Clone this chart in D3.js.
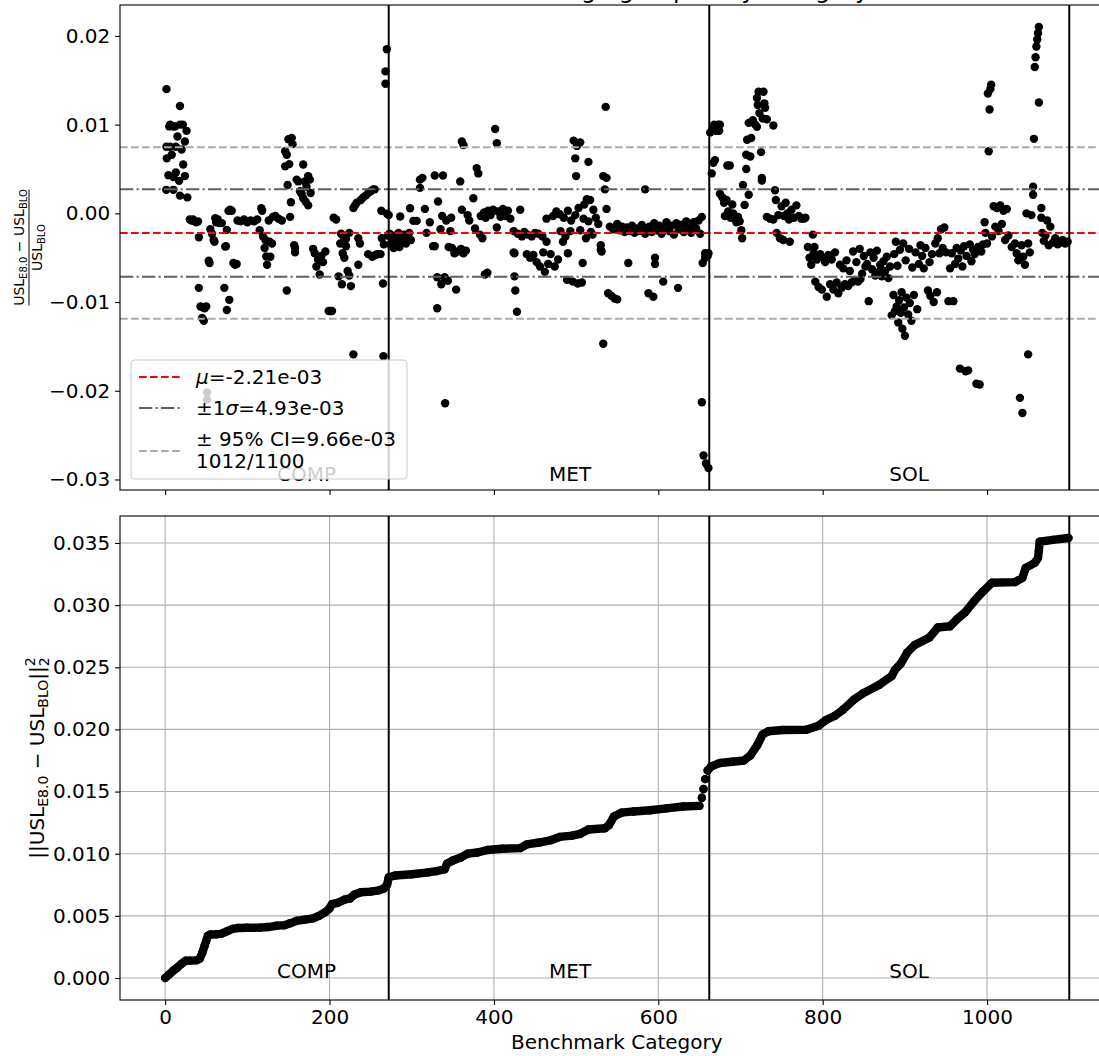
<!DOCTYPE html>
<html>
<head>
<meta charset="utf-8">
<script src="https://cdn.jsdelivr.net/npm/d3@7"></script>
<style>
  body { margin: 0; background: #fff; }
  text { font-family: "DejaVu Sans", sans-serif; fill: #000; }
</style>
</head>
<body>
<svg width="1099" height="1056"></svg>
<script>
// values below are in units of 1e-3
var compPts = [[1.6,14.0],[1.5,7.5],[2,6.2],[1.3,2.65],[4,4.3],[5,9.8],[6,10.0],[6,7.5],[8,6.6],[10,9.8],[10,4.1],[10,2.65],[12,9.8],[13,7.5],[13,4.6],[15,8.66],[17,3.66],[18,12.1],[18,10],[18,2.0],[20,7.2],[21.5,10.0],[22,5.5],[24,8.1],[24,4.2],[26,9.3],[27,1.8],
  [30,-0.7],[32,-0.8],[34,-0.7],[36,-0.9],[38,-1.0],[40,-0.9],[41,-2.7],[41,-8.4],[43,-10.5],[45,-11.8],[46,-10.6],[47,-12.1],[48,-10.7],[50,-10.5],[51,-20.2],[51,-21.0],[53,-5.35],[54,-5.6],[55,-1.8],[57,-2.3],[59,-3.0],[60,-3.2],[61,-0.55],[62,-1.0],[64,-0.7],[66,-1.1],[69,-1.1],[72,-8.4],[73,-3.75],[74,-3.7],[75,-1.86],[75,-10.9],[77,0.28],[78,-9.75],[79,0.4],[81,0.3],[83,-5.6],[85,-5.8],[87,-5.7],
  [88,-0.8],[92,-0.9],[96,-0.7],[100,-1.0],[104,-0.8],[108,-0.9],[112,-0.7],[115,-1.9],[117,0.58],[118,0.3],[119,-2.6],[121,-3.9],[122,-3.0],[123,-4.87],[124,-5.8],[126,-0.8],[127,-3.2],[128,-4.9],[130,-3.4],[131,-0.4],[134,-0.3],[138,-0.6],[142,-0.8],
  [146,7.0],[146,5.3],[148,6.6],[148,-8.7],[149,3.2],[150,8.36],[151,5.55],[152,-0.4],[153,1.25],[154,8.5],[155,7.8],[157,-3.6],[158,-3.9],[158,-4.4],[160,3.8],[162,3.6],[164,2.5],[166,2.2],[168,5.5],[168,1.7],[170,3.6],[171,1.3],[172,3.0],[174,4.2],[174,0.9],[176,3.8],[177,2.3],
  [180,-4.0],[182,-4.5],[184,-6.0],[186,-5.2],[188,-6.9],[190,-4.8],[192,-5.5],[195,-4.3],[199,-11.0],[201,-11.0],[203,-11.0],[205,-0.5],[208,-0.7],[211,-7.1],[213,-3.4],[214,-2.3],[215,-8.0],[216,-4.5],[217,-2.6],[218,-5.0],[220,-3.7],[220,-2.9],[222,-6.5],[224,-7.0],[224,-2.2],[226,-8.2],
  [229,0.6],[229,-15.9],[231,0.9],[233,1.2],[235,-2.8],[235,-5.8],[237,-3.4],[238,1.5],[241,1.8],[244,2.0],[247,-4.6],[247,2.3],[250,2.5],[252,-4.9],[253,2.7],[255,2.7],[256,-4.7],[258,-4.6],[262,-4.6],[263,0.3],[263.6,-2.8],[265,-7.9],[265.6,-16.1],[266,-3.5],[268,16.0],[268,14.6],[269.7,18.5],[270,-0.05],[271,-2.5]];

var metPts = [[272,-0.2],[273,-2.3],[274,-3.5],[276,-2.8],[278,-3.9],[280,-2.5],[282,-3.2],[284,-2.2],[285,-3.8],[286,-0.36],[287,-2.6],[289,-3.1],[291,-2.4],[293,-3.4],[295,-2.9],[297,-2.2],[298,0.58],[299,-3.0],
  [302,-0.85],[306,-0.85],[310,3.8],[310,2.87],[313,4.0],[316,0.5],[318,-2.2],[322,-1.0],[326,-3.7],[328,-3.7],[328,4.26],[331,-7.2],[331,-10.7],[332,1.33],[335,-1.8],[336,-8.0],[337,-0.3],[338,4.26],[340,-7.2],[340.6,-21.4],[342,-0.8],[344,-7.6],[345,-3.8],[347,-2.0],[348,-0.5],[349,-3.9],[352,-4.5],[354,-8.6],[356,-4.3],[359,3.6],[360,-4.0],[361,8.1],[361,0.4],[363,7.7],[363,-4.5],[366,-4.2],[368,-0.2],[370,-0.8],
  [375,1.7],[377,-1.7],[379,5.1],[381,4.5],[383,-2.4],[384,-0.3],[386,-2.8],[388,0.1],[389,-6.9],[390,-0.5],[392,-6.7],[393,0.3],[396,-0.2],[399,0.4],[401.5,9.5],[403.5,7.9],[403.5,-1.6],[405,0.2],[408,-0.4],[411,0.5],[414,-0.3],[417,0.3],[420,-0.6],
  [424,-2.0],[424,-4.4],[425,-4.5],[425,-7.1],[426,-8.7],[428,-11.1],[429,-2.3],[432,0.4],[434,-2.6],[437,-2.1],[440,-4.6],[441,-2.4],[444,-5.0],[446,-2.6],[448,-4.7],[450,-2.2],[452,-5.5],[454,-2.3],[456,-6.0],[459,-2.6],[460,-4.4],[462,-6.6],[464,-3.2],[464,-0.6],[466,-5.7],[469,-4.6],
  [472,-0.3],[474,-6.0],[476,0.2],[478,-5.2],[480,-0.1],[481,-2.0],[484,-3.2],[485,-0.5],[487,-2.6],[489,-7.5],[490,-4.5],[490,0.3],[493,-2.0],[494,-0.8],[496,-7.7],[497,8.2],[499,6.2],[499,-0.2],[500,4.2],[501,7.6],[502,-7.9],[503,0.6],[505,8.0],[505,-1.9],[507,-7.8],[508,-5.6],[509,-0.6],[510,1.0],[512,-2.8],[513,1.6],[515,5.8],[515,-0.9],[517,1.5],[518,-2.1],[520,-2.4],[521,0.4],[524,-0.5],[527,-1.2],
  [530,-3.6],[530,-4.1],[531,-4.3],[533,-14.7],[533,4.2],[535,2.7],[536,12.0],[537,4.0],[537,0.5],[539,-9.0],[541,-1.5],[543,-9.3],[545,-1.8],[547,-9.6],[550,-9.7],[550,-1.2],[553,-1.9],[556,-1.5],[559,-2.1],[562,-1.6],[563.5,-5.6],[565,-2.0],[568,-1.4],[571,-2.2],[574,-1.7],[577,-2.0],[580,-1.3],
  [584,2.7],[584,-2.3],[586,-1.8],[588,-9.0],[589,-1.5],[592,-2.1],[594,-9.4],[595,-1.1],[596,-5.7],[596,-5.0],[598,-1.9],[601,-1.4],[604,-2.3],[606,-7.7],[607,-1.6],[610,-1.0],[613,-2.0],[616,-1.4],[619,-2.4],[622,-1.1],[624,-8.4],[625,-1.8],[628,-1.3],[631,-2.1],[634,-0.9],[637,-1.6],[640,-2.2],[643,-1.0],[646,-1.7],[649,-0.8],[651,-2.3],
  [653,-0.4],[653,-21.3],[654,-5.6],[655,-27.3],[657,-4.5],[657,-5.0],[658,-28.2],[660,-4.8],[661,-28.7],[661,-4.5]];

var solPts = [[663,9.1],[665,4.5],[666,9.5],[667,5.7],[668,10.0],[669,6.0],[670,9.3],[671,9.8],[673,10.0],[674,9.3],[675,10.0],[675,2.2],[678,1.8],[680,1.2],[681,-0.3],[683,1.5],[684,5.4],[685,0.2],[687,5.4],[688,-0.5],[690,1.0],[691,0.0],[693,-0.6],[695,-1.0],[697,-0.4],[699,-0.9],
  [701,-1.9],[702,-2.8],[703,3.2],[705,0.95],[707,5.0],[707,6.6],[708,8.3],[710,2.1],[710,10.2],[712,6.4],[713,8.5],[715,10.5],[718,10.0],[720,9.75],[720,13.0],[721,12.2],[722,13.7],[723,11.3],[725,6.9],[726,4.0],[726,3.7],[727,10.7],[728,13.7],[729,12.4],[730,11.9],[732,10.6],[732,-0.4],[736,-0.6],[740,9.9],[740,-0.7],
  [742,2.6],[743,1.5],[744,-2.2],[746,-0.2],[748,-2.8],[750,0.8],[752,-3.0],[753,-0.3],[755,1.2],[757,0.0],[759,-0.7],[760,-3.2],[762,0.4],[765,-0.5],[768,0.9],[771,-0.3],[774,-0.6],[777,-0.6],[779,-0.5],
  [782,-3.8],[784,-5.0],[786,-5.8],[788,-2.4],[789,-4.5],[790,-3.8],[791,-7.7],[793,-5.2],[795,-8.3],[797,-4.6],[799,-8.6],[801,-5.0],[803,-5.5],[805,-9.4],[807,-4.7],[809,-8.0],[811,-5.2],[813,-8.6],[815,-4.4],[817,-7.8],[819,-9.0],[821,-5.8],[823,-8.4],[825,-6.2],[827,-8.0],[829,-5.3],[831,-8.2],[833,-6.5],[835,-7.8],[837,-4.3],[839,-7.5],
  [841,-5.5],[843,-7.7],[845,-4.0],[846,-7.4],[848,-6.8],[850,-4.8],[852,-6.0],[854,-5.7],[856,-9.9],[858,-4.4],[860,-6.3],[862,-5.0],[864,-7.0],[866,-4.2],[868,-6.6],[870,-5.8],[872,-7.1],[874,-5.4],[876,-6.5],[878,-4.9],[880,-7.3],[882,-6.0],
  [884,-11.5],[886,-9.2],[887,-4.6],[888,-11.0],[889,-3.2],[890,-10.5],[891,-5.9],[892,-12.3],[893,-9.8],[894,-4.1],[895,-11.2],[896,-8.9],[897,-13.0],[898,-3.4],[899,-10.6],[900,-13.8],[901,-5.3],[902,-9.5],[904,-11.4],[905,-4.0],[906,-10.1],[908,-12.1],[909,-6.1],[911,-9.2],[913,-4.4],[915,-10.8],[917,-5.7],[919,-3.6],[921,-4.8],[923,-6.2],[925,-3.9],
  [928,-8.7],[930,-5.5],[931,-9.3],[933,-4.6],[935,-10.0],[937,-3.4],[939,-8.9],[940,-2.8],[942,-4.5],[944,-1.8],[946,-3.9],[948,-1.6],[950,-4.4],[953,-9.9],[955,-6.2],[957,-4.5],[959,-9.9],[961,-5.7],[963,-3.9],[965,-5.1],[967,-17.5],[968,-4.2],[970,-6.0],[972,-3.7],[974,-17.8],[975,-4.8],[977,-17.7],[979,-3.5],[981,-5.4],[983,-4.1],[985,-4.6],[987,-19.2],[989,-3.8],[991,-19.3],[993,-4.3],[995,-3.5],[997,-1.0],[998,-2.2],
  [1000,-3.4],[1001,13.5],[1002,7.0],[1003,11.7],[1004,14.0],[1005,14.5],[1006,-2.6],[1008,0.8],[1010,-1.5],[1012,0.6],[1014,-2.0],[1016,0.9],[1018,-1.2],[1020,0.3],[1022,-3.0],[1024,0.5],[1026,-2.5],[1030,-3.8],[1034,-3.4],[1036,-4.5],[1038,-5.3],[1040,-20.8],[1042,-3.6],[1043,-22.5],[1044,-4.9],[1046,-5.8],[1048,0.0],[1050,-15.9],[1050,-3.4],[1052,-4.4],[1054,-0.2],
  [1056,3.0],[1056,2.1],[1057,8.4],[1058,16.5],[1059,17.6],[1060,18.8],[1061,19.6],[1062,20.3],[1063,21.0],[1063,12.5],[1066,0.6],[1066,-0.5],[1067,-2.2],[1069,-3.1],[1071,-2.5],[1073,-0.8],[1075,-3.6],[1077,-1.5],[1080,-3.3],[1083,-2.8],[1086,-3.5],[1089,-3.3],[1092,-3.0],[1095,-3.4],[1098,-3.2]];

// cumulative ||.||^2 (units of 1e-3); null = visible gap between dots
var cumPts = [[0,0],[5,0.3],[10,0.6],[15,0.85],[20,1.15],[25,1.39],[30,1.4],[38,1.42],[42,1.55],[45,2.0],[48,2.6],[50,3.0],[52,3.4],[55,3.5],[62,3.52],[68,3.55],[75,3.75],[82,3.95],[88,4.02],[100,4.04],[115,4.05],[125,4.1],[135,4.2],[145,4.25],[152,4.4],[160,4.6],[170,4.7],[180,4.8],[187,5.0],[195,5.3],[200,5.6],[203,5.95],[210,6.05],[218,6.3],[225,6.4],[230,6.7],[238,6.9],[250,6.95],[260,7.05],[266,7.2],[270,7.5],[272,8.1],
  [280,8.25],[300,8.35],[320,8.5],[330,8.6],[340,8.75],[343,9.2],[350,9.45],[360,9.7],[368,10.0],[380,10.1],[392,10.3],[410,10.4],[432,10.45],[440,10.75],[455,10.9],[470,11.1],[480,11.35],[495,11.45],[505,11.6],[515,11.95],[535,12.05],[540,12.3],[546,13.0],[555,13.3],[570,13.4],[590,13.5],[610,13.65],[630,13.8],[650,13.85],
  null,[653,14.5],null,[655,15.2],null,[657,16.0],null,[660,16.7],[664,17.0],[675,17.3],[690,17.4],[704,17.5],[712,17.9],[721,18.8],[727,19.6],[734,19.85],[751,19.95],[780,19.97],[795,20.3],[804,20.75],[815,21.1],[825,21.6],[838,22.4],[849,22.9],[869,23.6],[884,24.3],[888,24.8],[895,25.3],[903,26.2],[912,26.8],[930,27.4],[940,28.2],[955,28.3],[964,28.9],[973,29.4],[984,30.3],[995,31.1],[1006,31.8],[1034,31.85],[1043,32.2],[1047,33.0],[1058,33.4],[1062,33.8],[1063,34.4],[1064,35.1],[1080,35.25],[1099,35.4]];

var categories = ["COMP", "MET", "SOL"];
var boundaries = [0, 272, 662, 1100];
var meanVal = -2.21e-3, sigmaVal = 4.93e-3, ciVal = 9.66e-3;
var countLabel = "1012/1100";
var nPoints = 1099;
var xTicks = [0, 200, 400, 600, 800, 1000];
var topTicks = [-0.03, -0.02, -0.01, 0.00, 0.01, 0.02];
var botTicks = [0, 0.005, 0.01, 0.015, 0.02, 0.025, 0.03, 0.035];

var svg = d3.select("svg"),
    width = +svg.attr("width"),
    height = +svg.attr("height");

var left = 120, right = 1113.6;
var topBox = {t: 5, b: 490}, botBox = {t: 516, b: 1000};
var allPts = compPts.concat(metPts, solPts);

var x = d3.scaleLinear()
  .domain([-0.05 * nPoints, nPoints * 1.05])
  .range([left, right]);

var yMin = d3.min(allPts, function(d) { return d[1]; }) * 1e-3,
    yMax = d3.max(allPts, function(d) { return d[1]; }) * 1e-3,
    yPad = (yMax - yMin) * 0.05;
var yTop = d3.scaleLinear()
  .domain([yMin - yPad, yMax + yPad])
  .range([topBox.b, topBox.t]);

var cMax = d3.max(cumPts, function(d) { return d ? d[1] : 0; }) * 1e-3;
var yBot = d3.scaleLinear()
  .domain([-cMax * 0.05, cMax * 1.05])
  .range([botBox.b, botBox.t]);

// matplotlib style "%.2e" with a plain hyphen and two-digit exponent
function sci(v) {
  var s = d3.format(".2e")(v).replace("−", "-");
  return s.replace(/e([+-])(\d)$/, "e$10$2");
}

svg.append("defs").append("clipPath").attr("id", "clipTop")
  .append("rect").attr("x", left).attr("y", topBox.t)
  .attr("width", right - left).attr("height", topBox.b - topBox.t);

// title (mostly above the visible page)
svg.append("text")
  .attr("x", (left + right) / 2).attr("y", -2)
  .attr("text-anchor", "middle").style("font-size", "24px")
  .text("Relative USL change grouped by category");

// ---------- top panel ----------
var gTop = svg.append("g");
var plotTop = gTop.append("g").attr("clip-path", "url(#clipTop)");

plotTop.selectAll("circle")
  .data(allPts)
  .enter().append("circle")
    .attr("cx", function(d) { return x(d[0]); })
    .attr("cy", function(d) { return yTop(d[1] * 1e-3); })
    .attr("r", 4.2)
    .style("fill", "#000");

var hLines = [
  {v: meanVal, color: "#ff0000", dash: "7.7,3.3"},
  {v: meanVal + sigmaVal, color: "#606060", dash: "13.3,3.3,2.1,3.3"},
  {v: meanVal - sigmaVal, color: "#606060", dash: "13.3,3.3,2.1,3.3"},
  {v: meanVal + ciVal, color: "#aaaaaa", dash: "7.7,3.3"},
  {v: meanVal - ciVal, color: "#aaaaaa", dash: "7.7,3.3"}
];
plotTop.selectAll(".hline")
  .data(hLines)
  .enter().append("line")
    .attr("x1", left).attr("x2", right)
    .attr("y1", function(d) { return yTop(d.v); })
    .attr("y2", function(d) { return yTop(d.v); })
    .style("stroke", function(d) { return d.color; })
    .style("stroke-dasharray", function(d) { return d.dash; })
    .style("stroke-width", 2);

function drawCategories(g, y, box, labelY) {
  g.selectAll(".vline")
    .data(boundaries.slice(1))
    .enter().append("line")
      .attr("x1", function(d) { return x(d); })
      .attr("x2", function(d) { return x(d); })
      .attr("y1", box.t).attr("y2", box.b)
      .style("stroke", "#000").style("stroke-width", 2);
  g.selectAll(".cat")
    .data(categories)
    .enter().append("text")
      .attr("x", function(d, i) { return x((boundaries[i] + boundaries[i + 1]) / 2); })
      .attr("y", y(labelY))
      .style("font-size", "20px")
      .text(function(d) { return d; });
}
drawCategories(plotTop, yTop, topBox, -0.0302);

gTop.append("g")
  .attr("transform", "translate(" + left + ",0)")
  .call(d3.axisLeft(yTop).tickValues(topTicks).tickFormat(d3.format(".2f"))
    .tickSize(4.9).tickPadding(4.9).tickSizeOuter(0));
gTop.append("g")
  .attr("transform", "translate(0," + topBox.b + ")")
  .call(d3.axisBottom(x).tickValues(xTicks).tickFormat("")
    .tickSize(4.9).tickSizeOuter(0));
gTop.append("rect")
  .attr("x", left).attr("y", topBox.t)
  .attr("width", right - left).attr("height", topBox.b - topBox.t)
  .style("fill", "none").style("stroke", "#000").style("stroke-width", 1.1);

// legend
var leg = gTop.append("g");
leg.append("rect")
  .attr("x", 131).attr("y", 360).attr("width", 276).attr("height", 119)
  .attr("rx", 4)
  .style("fill", "#fff").style("fill-opacity", 0.8)
  .style("stroke", "#cccccc").style("stroke-width", 1.1);
var legItems = [
  {line: hLines[0], y: 377, text: [["μ", "italic"], ["=" + sci(meanVal), ""]]},
  {line: hLines[1], y: 408, text: [["±1", ""], ["σ", "italic"], ["=" + sci(sigmaVal), ""]]},
  {line: hLines[3], y: 451, text: [["± 95% CI=" + sci(ciVal), ""]]}
];
legItems.forEach(function(it) {
  leg.append("line")
    .attr("x1", 139).attr("x2", 180).attr("y1", it.y).attr("y2", it.y)
    .style("stroke", it.line.color).style("stroke-dasharray", it.line.dash)
    .style("stroke-width", 2);
});
legItems.forEach(function(it, i) {
  var t = leg.append("text")
    .attr("x", 196).attr("y", i < 2 ? it.y + 7 : 446)
    .style("font-size", "20px");
  it.text.forEach(function(p) {
    t.append("tspan").style("font-style", p[1] || "normal").text(p[0]);
  });
});
leg.append("text").attr("x", 196).attr("y", 468)
  .style("font-size", "20px").text(countLabel);

// y label (fraction)
var yl1 = svg.append("g").attr("transform", "translate(29," + (topBox.t + topBox.b) / 2 + ") rotate(-90)");
var num = yl1.append("text").attr("text-anchor", "middle").attr("y", -5).style("font-size", "14px");
num.append("tspan").text("USL");
num.append("tspan").attr("dy", 3).style("font-size", "10px").text("E8.0");
num.append("tspan").attr("dy", -3).text(" − USL");
num.append("tspan").attr("dy", 3).style("font-size", "10px").text("BLO");
yl1.append("line").attr("x1", -58).attr("x2", 58)
  .style("stroke", "#000").style("stroke-width", 1);
var den = yl1.append("text").attr("text-anchor", "middle").attr("y", 13).style("font-size", "14px");
den.append("tspan").text("USL");
den.append("tspan").attr("dy", 3).style("font-size", "10px").text("BLO");

// ---------- bottom panel ----------
var gBot = svg.append("g");

gBot.selectAll(".gx")
  .data(xTicks)
  .enter().append("line")
    .attr("x1", function(d) { return x(d); }).attr("x2", function(d) { return x(d); })
    .attr("y1", botBox.t).attr("y2", botBox.b)
    .style("stroke", "#b0b0b0").style("stroke-width", 1.1);
gBot.selectAll(".gy")
  .data(botTicks)
  .enter().append("line")
    .attr("x1", left).attr("x2", right)
    .attr("y1", function(d) { return yBot(d); }).attr("y2", function(d) { return yBot(d); })
    .style("stroke", "#b0b0b0").style("stroke-width", 1.1);

var cumLine = d3.line()
  .defined(function(d) { return d !== null; })
  .x(function(d) { return x(d[0]); })
  .y(function(d) { return yBot(d[1] * 1e-3); });
gBot.append("path")
  .datum(cumPts)
  .attr("d", cumLine)
  .style("fill", "none").style("stroke", "#000")
  .style("stroke-width", 8.4).style("stroke-linejoin", "round").style("stroke-linecap", "round");
gBot.selectAll(".cum")
  .data(cumPts.filter(function(d) { return d !== null; }))
  .enter().append("circle")
    .attr("cx", function(d) { return x(d[0]); })
    .attr("cy", function(d) { return yBot(d[1] * 1e-3); })
    .attr("r", 4.2)
    .style("fill", "#000");

drawCategories(gBot, yBot, botBox, 0);

gBot.append("g")
  .attr("transform", "translate(" + left + ",0)")
  .call(d3.axisLeft(yBot).tickValues(botTicks).tickFormat(d3.format(".3f"))
    .tickSize(4.9).tickPadding(4.9).tickSizeOuter(0));
gBot.append("g")
  .attr("transform", "translate(0," + botBox.b + ")")
  .call(d3.axisBottom(x).tickValues(xTicks).tickFormat(d3.format("d"))
    .tickSize(4.9).tickPadding(4.9).tickSizeOuter(0));
gBot.append("rect")
  .attr("x", left).attr("y", botBox.t)
  .attr("width", right - left).attr("height", botBox.b - botBox.t)
  .style("fill", "none").style("stroke", "#000").style("stroke-width", 1.1);

svg.selectAll(".tick text")
  .style("font-size", "20px").style("font-family", "DejaVu Sans, sans-serif").style("fill", "#000");
svg.selectAll(".tick line").style("stroke", "#000").style("stroke-width", 1.1);
svg.selectAll(".domain").remove();

svg.append("text")
  .attr("x", (left + right) / 2).attr("y", 1049)
  .attr("text-anchor", "middle").style("font-size", "20px")
  .text("Benchmark Category");

var yl2 = svg.append("g").attr("transform", "translate(44," + (botBox.t + botBox.b) / 2 + ") rotate(-90)");
var t2 = yl2.append("text").attr("text-anchor", "middle").style("font-size", "20px");
t2.append("tspan").text("||USL");
t2.append("tspan").attr("dy", 4).style("font-size", "14px").text("E8.0");
t2.append("tspan").attr("dy", -4).text(" − USL");
t2.append("tspan").attr("dy", 4).style("font-size", "14px").text("BLO");
t2.append("tspan").attr("dy", -4).text("||");
t2.append("tspan").attr("dy", -9).style("font-size", "14px").text("2");
t2.append("tspan").attr("dx", -8.9).attr("dy", 14).style("font-size", "14px").text("2");
</script>
</body>
</html>
